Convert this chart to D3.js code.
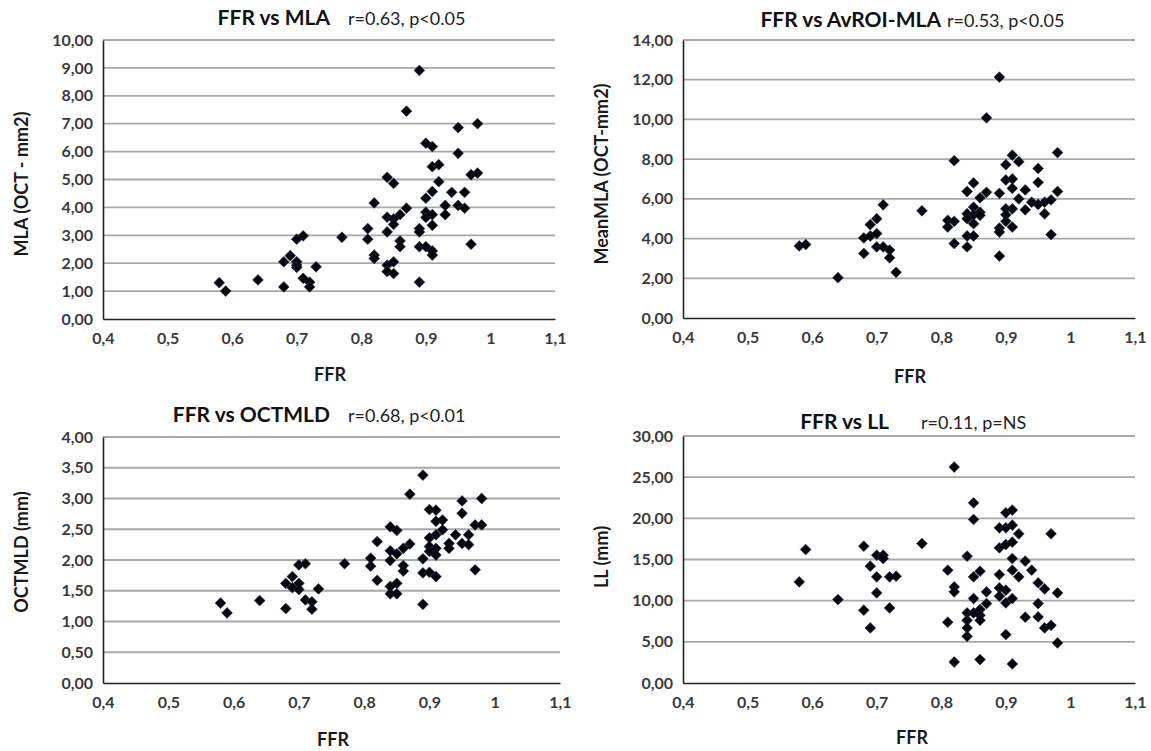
<!DOCTYPE html>
<html>
<head>
<meta charset="utf-8">
<script src="https://cdn.jsdelivr.net/npm/d3@7"></script>
<style>
  body { margin: 0; background: #fff; }
  svg { display: block; }
  .tick text { font-family: Lato, "Open Sans", sans-serif; font-weight: bold; font-size: 16px; fill: #3a3a3a; }
  .title { font-family: Lato, sans-serif; font-weight: bold; font-size: 21px; fill: #111; }
  .stat { font-family: Lato, sans-serif; font-size: 18px; fill: #222; }
  .axis-title { font-family: Lato, sans-serif; font-weight: bold; font-size: 18px; fill: #1a1a1a; }
</style>
</head>
<body>
<script>
// x ticks shared by all four plots
var xTicks = [0.4, 0.5, 0.6, 0.7, 0.8, 0.9, 1.0, 1.1];

// FFR vs MLA
var ffrMla = [0.58,0.59,0.64,0.68,0.68,0.69,0.70,0.70,0.70,0.70,0.71,0.71,0.72,0.72,0.73,0.77,0.81,0.81,0.82,0.82,0.82,
  0.84,0.85,0.84,0.85,0.85,0.84,0.84,0.85,0.84,0.85,0.86,0.87,0.86,0.86,0.87,0.89,0.89,0.89,0.89,0.89,
  0.90,0.90,0.90,0.90,0.90,0.91,0.91,0.91,0.91,0.91,0.91,0.91,0.92,0.92,0.93,0.93,0.94,0.95,0.95,0.95,
  0.96,0.96,0.97,0.97,0.98,0.98];
var mla = [1.30,1.00,1.40,1.15,2.05,2.27,1.93,2.05,1.85,2.86,2.98,1.46,1.32,1.15,1.87,2.93,3.24,2.86,4.16,2.29,2.17,
  5.08,4.86,3.65,3.59,3.39,3.12,1.93,2.05,1.70,1.63,3.74,3.97,2.80,2.59,7.45,8.91,3.24,3.12,2.59,1.32,
  6.30,4.33,3.83,3.64,2.59,6.18,5.46,4.57,3.74,3.36,2.44,2.29,5.53,4.92,4.07,3.74,4.54,6.86,5.94,4.07,
  4.54,3.97,5.17,2.68,7.00,5.23];
var mlaTicks = [0,1,2,3,4,5,6,7,8,9,10];

// FFR vs AvROI-MLA
var ffrAvroi = [0.58,0.59,0.64,0.68,0.68,0.69,0.69,0.70,0.70,0.70,0.71,0.71,0.72,0.72,0.73,0.77,0.81,0.81,0.82,0.82,0.82,
  0.84,0.84,0.84,0.84,0.84,0.85,0.85,0.85,0.85,0.85,0.86,0.86,0.86,0.87,0.87,0.89,0.89,0.89,0.89,0.89,
  0.90,0.90,0.90,0.90,0.90,0.91,0.91,0.91,0.91,0.91,0.92,0.92,0.93,0.93,0.94,0.95,0.95,0.95,0.96,0.96,
  0.97,0.97,0.98,0.98];
var avroiMla = [3.63,3.70,2.03,4.03,3.25,4.70,4.13,5.00,4.25,3.58,5.70,3.58,3.42,3.03,2.30,5.40,4.92,4.58,7.92,4.87,3.75,
  6.37,5.25,5.00,4.13,3.58,6.80,5.58,5.20,4.75,4.13,6.05,5.33,5.17,10.08,6.33,12.13,6.28,4.53,4.33,3.12,
  7.72,6.95,5.50,5.20,4.87,8.20,7.00,6.53,5.50,4.58,7.87,6.00,6.45,5.45,5.83,7.53,6.83,5.72,5.83,5.25,
  5.95,4.20,8.33,6.37];
var avroiTicks = [0,2,4,6,8,10,12,14];

// FFR vs OCTMLD
var ffrMld = [0.58,0.59,0.64,0.68,0.68,0.69,0.69,0.70,0.70,0.70,0.71,0.71,0.72,0.72,0.73,0.77,0.81,0.81,0.82,0.82,
  0.84,0.84,0.84,0.84,0.84,0.85,0.85,0.85,0.85,0.86,0.86,0.86,0.87,0.87,0.89,0.89,0.89,0.89,
  0.90,0.90,0.90,0.90,0.90,0.91,0.91,0.91,0.91,0.91,0.91,0.92,0.92,0.93,0.93,0.94,0.95,0.95,0.95,
  0.96,0.96,0.97,0.97,0.98,0.98];
var octMld = [1.30,1.14,1.34,1.62,1.21,1.73,1.55,1.92,1.62,1.52,1.94,1.35,1.32,1.20,1.53,1.94,2.03,1.90,2.30,1.67,
  2.54,2.15,1.99,1.57,1.45,2.48,2.10,1.62,1.45,2.19,1.91,1.82,3.07,2.26,3.38,2.02,1.79,1.28,
  2.82,2.36,2.22,2.14,1.80,2.81,2.63,2.41,2.19,2.08,1.73,2.65,2.49,2.27,2.19,2.41,2.96,2.76,2.27,
  2.41,2.25,2.57,1.84,3.00,2.57];
var mldTicks = [0,0.5,1,1.5,2,2.5,3,3.5,4];

// FFR vs LL
var ffrLl = [0.58,0.59,0.64,0.68,0.68,0.69,0.69,0.70,0.70,0.70,0.71,0.71,0.72,0.72,0.73,0.77,0.81,0.81,0.82,0.82,0.82,0.82,
  0.84,0.84,0.84,0.84,0.84,0.85,0.85,0.85,0.85,0.85,0.86,0.86,0.86,0.86,0.86,0.87,0.87,
  0.89,0.89,0.89,0.89,0.89,0.90,0.90,0.90,0.90,0.90,0.90,0.91,0.91,0.91,0.91,0.91,0.91,0.91,
  0.92,0.92,0.93,0.93,0.94,0.95,0.95,0.95,0.96,0.96,0.97,0.97,0.98,0.98];
var ll = [12.28,16.21,10.13,16.62,8.84,14.19,6.69,15.52,12.89,10.94,15.52,15.12,12.89,9.12,12.97,16.94,13.70,7.38,26.23,11.67,11.07,2.55,
  15.40,8.51,7.62,6.69,5.67,21.89,19.86,12.89,10.26,8.51,13.58,8.92,8.23,7.62,2.84,11.07,9.65,
  18.85,16.42,13.17,11.55,10.54,20.67,18.85,16.82,11.27,9.73,5.88,21.00,19.17,17.11,15.12,13.70,10.26,2.31,
  18.12,12.89,14.80,7.99,13.70,12.16,9.65,8.03,11.43,6.69,18.12,7.01,10.94,4.86];
var llTicks = [0,5,10,15,20,25,30];

var panels = [
  { x: ffrMla, y: mla, yTicks: mlaTicks, title: "FFR vs MLA", stat: "r=0.63, p<0.05", yTitle: "MLA (OCT - mm2)",
    left: 103, right: 555, top: 40, bottom: 319, titleEnd: 330, statStart: 348, titleY: 25, xTitleX: 330, xTitleY: 381, yTitleX: 22, yTitleY: 184 },
  { x: ffrAvroi, y: avroiMla, yTicks: avroiTicks, title: "FFR vs AvROI-MLA", stat: "r=0.53, p<0.05", yTitle: "MeanMLA (OCT-mm2)",
    left: 683, right: 1135, top: 40, bottom: 318, titleEnd: 941, statStart: 947, titleY: 27, xTitleX: 910, xTitleY: 383, yTitleX: 602, yTitleY: 174 },
  { x: ffrMld, y: octMld, yTicks: mldTicks, title: "FFR vs OCTMLD", stat: "r=0.68, p<0.01", yTitle: "OCTMLD (mm)",
    left: 103, right: 560, top: 437, bottom: 683, titleEnd: 330, statStart: 348, titleY: 422, xTitleX: 333, xTitleY: 746, yTitleX: 22, yTitleY: 552 },
  { x: ffrLl, y: ll, yTicks: llTicks, title: "FFR vs LL", stat: "r=0.11, p=NS", yTitle: "LL (mm)",
    left: 683, right: 1135, top: 436, bottom: 683, titleEnd: 889, statStart: 921, titleY: 429, xTitleX: 912, xTitleY: 744, yTitleX: 602, yTitleY: 557 }
];

var locale = d3.formatLocale({ decimal: ",", thousands: ".", grouping: [3], currency: ["", ""] });
var fmtX = locale.format(".1~f");
var fmtY = locale.format(".2f");

var svg = d3.select("body").append("svg")
  .attr("width", 1151)
  .attr("height", 751);

panels.forEach(function(p) {
  var x = d3.scaleLinear().domain([0.4, 1.1]).range([p.left, p.right]);
  var y = d3.scaleLinear().domain([0, d3.max(p.yTicks)]).range([p.bottom, p.top]);
  var g = svg.append("g");

  // horizontal gridlines
  g.append("g").selectAll("line")
    .data(p.yTicks.filter(function(t) { return t > 0; }))
    .enter().append("line")
    .attr("x1", p.left).attr("x2", p.right)
    .attr("y1", function(t) { return y(t); })
    .attr("y2", function(t) { return y(t); })
    .attr("stroke", "#a8a8a8")
    .attr("stroke-width", 1.8);

  var xAxis = g.append("g")
    .attr("transform", "translate(0," + p.bottom + ")")
    .call(d3.axisBottom(x).tickValues(xTicks).tickFormat(fmtX).tickSize(0).tickPadding(14));
  var yAxis = g.append("g")
    .attr("transform", "translate(" + p.left + ",0)")
    .call(d3.axisLeft(y).tickValues(p.yTicks).tickFormat(fmtY).tickSize(0).tickPadding(10));
  [xAxis, yAxis].forEach(function(a) {
    a.select(".domain").attr("stroke", "#222").attr("stroke-width", 1.6);
  });

  // points
  var pts = p.x.map(function(v, i) { return [v, p.y[i]]; });
  g.append("g").selectAll("path")
    .data(pts)
    .enter().append("path")
    .attr("d", d3.symbol(d3.symbolSquare, 58))
    .attr("transform", function(d) { return "translate(" + x(d[0]) + "," + y(d[1]) + ") rotate(45)"; })
    .attr("fill", "#05050c")
    .attr("stroke", "#1c2c44")
    .attr("stroke-width", 0.6);

  // titles
  g.append("text").attr("class", "title")
    .attr("x", p.titleEnd).attr("y", p.titleY)
    .attr("text-anchor", "end").text(p.title);
  g.append("text").attr("class", "stat")
    .attr("x", p.statStart).attr("y", p.titleY)
    .text(p.stat);
  g.append("text").attr("class", "axis-title")
    .attr("x", p.xTitleX).attr("y", p.xTitleY)
    .attr("text-anchor", "middle").text("FFR");
  g.append("text").attr("class", "axis-title")
    .attr("transform", "translate(" + p.yTitleX + "," + p.yTitleY + ") rotate(-90)")
    .attr("text-anchor", "middle").attr("dy", "0.35em")
    .text(p.yTitle);
});
</script>
</body>
</html>
